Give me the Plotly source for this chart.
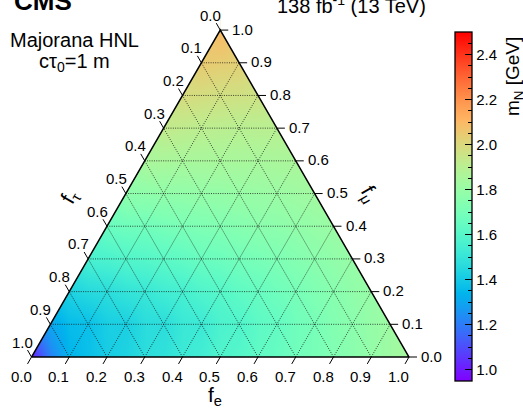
import numpy as np
import plotly.graph_objects as go

# ---------------- data ----------------
# ternary grid steps and their labels (same for f_e, f_mu, f_tau)
F_STEPS = [0.0, 0.1, 0.2, 0.3, 0.4, 0.5, 0.6, 0.7, 0.8, 0.9, 1.0]
TICK_LABELS = ["0.0", "0.1", "0.2", "0.3", "0.4", "0.5", "0.6", "0.7", "0.8", "0.9", "1.0"]

# m_N [GeV] at the lattice nodes: one list per f_mu row, entries run over f_e = 0.0, 0.1, ...
MN_FMU_00 = [1.00, 1.34, 1.41, 1.47, 1.52, 1.58, 1.63, 1.68, 1.73, 1.79, 1.85]
MN_FMU_01 = [1.30, 1.37, 1.42, 1.47, 1.52, 1.58, 1.64, 1.70, 1.76, 1.82]
MN_FMU_02 = [1.43, 1.47, 1.51, 1.55, 1.60, 1.65, 1.70, 1.75, 1.80]
MN_FMU_03 = [1.56, 1.59, 1.62, 1.66, 1.69, 1.72, 1.76, 1.80]
MN_FMU_04 = [1.66, 1.68, 1.71, 1.73, 1.76, 1.78, 1.81]
MN_FMU_05 = [1.77, 1.78, 1.79, 1.80, 1.81, 1.83]
MN_FMU_06 = [1.86, 1.85, 1.85, 1.85, 1.86]
MN_FMU_07 = [1.93, 1.91, 1.90, 1.90]
MN_FMU_08 = [1.99, 1.97, 1.96]
MN_FMU_09 = [2.05, 2.03]
MN_FMU_10 = [2.10]
MN_ROWS = [MN_FMU_00, MN_FMU_01, MN_FMU_02, MN_FMU_03, MN_FMU_04, MN_FMU_05,
           MN_FMU_06, MN_FMU_07, MN_FMU_08, MN_FMU_09, MN_FMU_10]

CB_TICKS = [1.0, 1.2, 1.4, 1.6, 1.8, 2.0, 2.2, 2.4]
CB_LABELS = ["1.0", "1.2", "1.4", "1.6", "1.8", "2.0", "2.2", "2.4"]
Z_MIN, Z_MAX = 0.95, 2.5

# ---------------- style / geometry ----------------
W, H = 523, 408
FONT = "Liberation Sans"
SQ = np.sqrt(3) / 2
PX = 377.5                    # pixels per ternary unit
X0_PX, BASE_PX = 31.5, 357.0  # bottom-left corner in pixels
XR = [-X0_PX / PX, (W - X0_PX) / PX]
YR = [-(H - BASE_PX) / PX, BASE_PX / PX]


def xy(fe, fmu):
    return fe + 0.5 * fmu, fmu * SQ


def px(xp, yp):
    return xp / W, 1 - yp / H


# matplotlib-like "rainbow" colour scale
def rainbow(n=41):
    out = []
    for i in range(n):
        t = i / (n - 1)
        r = min(1.0, abs(2 * t - 0.5))
        g = np.sin(np.pi * t)
        b = np.cos(np.pi * t / 2)
        out.append([t, "rgb(%d,%d,%d)" % (round(255 * r), round(255 * g), round(255 * max(b, 0)))])
    return out


RAINBOW = rainbow()

# heat map on a grid whose nodes hold the lattice values (gaps are filled by plotly)
ncol = 2 * (len(F_STEPS) - 1) + 1
hx = [c * 0.05 for c in range(ncol)]
hy = [xy(0, f)[1] for f in F_STEPS]
z = [[None] * ncol for _ in F_STEPS]
for j, row in enumerate(MN_ROWS):
    for k, v in enumerate(row):
        z[j][j + 2 * k] = v

cb_y = 1 - ((32 + 381) / 2) / H
heat = go.Heatmap(
    x=hx, y=hy, z=z, zsmooth="best", connectgaps=True,
    colorscale=RAINBOW, zmin=Z_MIN, zmax=Z_MAX, hoverinfo="skip",
    colorbar=dict(
        x=455 / W, xanchor="left", xpad=0, y=cb_y, yanchor="middle", ypad=0,
        len=349, lenmode="pixels", thickness=17, thicknessmode="pixels",
        outlinewidth=1.3, outlinecolor="black",
        tickmode="array", tickvals=CB_TICKS, ticktext=CB_LABELS,
        ticks="inside", ticklen=7, tickwidth=1, tickcolor="black",
        tickfont=dict(family=FONT, size=15, color="black"),
    ),
)

minor_vals = [round(Z_MIN + 0.05 * i, 2) for i in range(int(round((Z_MAX - Z_MIN) / 0.05)) + 1)]
minor_cb = go.Scatter(
    x=[0.5], y=[0.3], mode="markers", hoverinfo="skip",
    marker=dict(size=1, opacity=0, color=[1.5], cmin=Z_MIN, cmax=Z_MAX,
                colorscale=[[0, "rgba(0,0,0,0)"], [1, "rgba(0,0,0,0)"]],
                showscale=True,
                colorbar=dict(
                    x=455 / W, xanchor="left", xpad=0, y=cb_y, yanchor="middle", ypad=0,
                    len=349, lenmode="pixels", thickness=17, thicknessmode="pixels",
                    outlinewidth=0, tickmode="array", tickvals=minor_vals,
                    ticks="inside", ticklen=4, tickwidth=1, tickcolor="black",
                    showticklabels=False, bgcolor="rgba(0,0,0,0)")),
)

# white masks outside the triangle
BL, BR, TOP = xy(0, 0), xy(1, 0), xy(0, 1)
masks = []
for mxs, mys in [
    ([-0.3, BL[0], TOP[0], TOP[0], -0.3], [BL[1], BL[1], TOP[1], 1.2, 1.2]),
    ([1.3, BR[0], TOP[0], TOP[0], 1.3], [BR[1], BR[1], TOP[1], 1.2, 1.2]),
    ([-0.3, 1.3, 1.3, -0.3], [-0.3, -0.3, BL[1], BL[1]]),
]:
    masks.append(go.Scatter(x=mxs, y=mys, fill="toself", fillcolor="white", mode="none",
                            hoverinfo="skip"))

# dotted grid
gx, gy = [], []
for t in F_STEPS[1:-1]:
    for a, b in [((0, t), (1 - t, t)), ((t, 0), (t, 1 - t)), ((1 - t, 0), (0, 1 - t))]:
        x0, y0 = xy(*a)
        x1, y1 = xy(*b)
        gx += [x0, x1, None]
        gy += [y0, y1, None]
grid = go.Scatter(x=gx, y=gy, mode="lines", hoverinfo="skip",
                  line=dict(color="rgba(20,20,20,0.85)", width=0.9, dash="1px,1.3px"))

outline = go.Scatter(x=[BL[0], BR[0], TOP[0], BL[0]], y=[BL[1], BR[1], TOP[1], BL[1]],
                     mode="lines", hoverinfo="skip", line=dict(color="black", width=1.5))

# ticks
TL = 8 / PX
tx, ty = [], []
for t in F_STEPS:
    for p, d in [(xy(0, 1 - t), (-0.5, SQ)), (xy(t, 0), (-0.5, -SQ)), (xy(1 - t, t), (1.0, 0.0))]:
        tx += [p[0], p[0] + TL * d[0], None]
        ty += [p[1], p[1] + TL * d[1], None]
ticks = go.Scatter(x=tx, y=ty, mode="lines", hoverinfo="skip", line=dict(color="black", width=1))

fig = go.Figure([heat] + masks + [grid, outline, ticks, minor_cb])

ann = []
tf = dict(family=FONT, size=15, color="black")
for t, lab in zip(F_STEPS, TICK_LABELS):
    p = xy(0, 1 - t)      # f_tau labels on the left edge
    ann.append(dict(x=p[0], y=p[1], xref="x", yref="y", text=lab, showarrow=False,
                    xshift=-9.5, yshift=15, font=tf))
    p = xy(t, 0)          # f_e labels along the base
    ann.append(dict(x=p[0], y=p[1], xref="x", yref="y", text=lab, showarrow=False,
                    xshift=-10.5, yshift=-19, font=tf))
    p = xy(1 - t, t)      # f_mu labels on the right edge
    ann.append(dict(x=p[0], y=p[1], xref="x", yref="y", text=lab, showarrow=False,
                    xanchor="left", xshift=10, yshift=1, font=tf))


def txt(text, xp, yp, size, angle=0, **kw):
    x, y = px(xp, yp)
    ann.append(dict(x=x, y=y, xref="paper", yref="paper", text=text, showarrow=False,
                    textangle=angle, xanchor="center", yanchor="middle",
                    font=dict(family=FONT, size=size, color="black"), **kw))


txt("f<sub>e</sub>", 215, 396, 21)
txt("f<sub>τ</sub>", 70, 197, 21, angle=-60)
txt("f<sub>μ</sub>", 369, 194, 21, angle=60)
txt("m<sub>N</sub> [GeV]", 514, 77, 19, angle=-90)
txt("<b>CMS</b>", 43, 1, 26)
txt("138 fb<sup>-1</sup> (13 TeV)", 351, 5, 20)
txt("Majorana HNL", 74, 40, 20)
txt("cτ<sub>0</sub>=1 m", 74, 62, 20)

fig.update_layout(
    width=W, height=H, margin=dict(l=0, r=0, t=0, b=0),
    paper_bgcolor="white", plot_bgcolor="white", showlegend=False,
    xaxis=dict(range=XR, visible=False, fixedrange=True),
    yaxis=dict(range=YR, visible=False, fixedrange=True),
    annotations=ann,
)

fig.write_html("out.html", config={"displayModeBar": False},
               post_script="document.body.style.margin='0px';")
